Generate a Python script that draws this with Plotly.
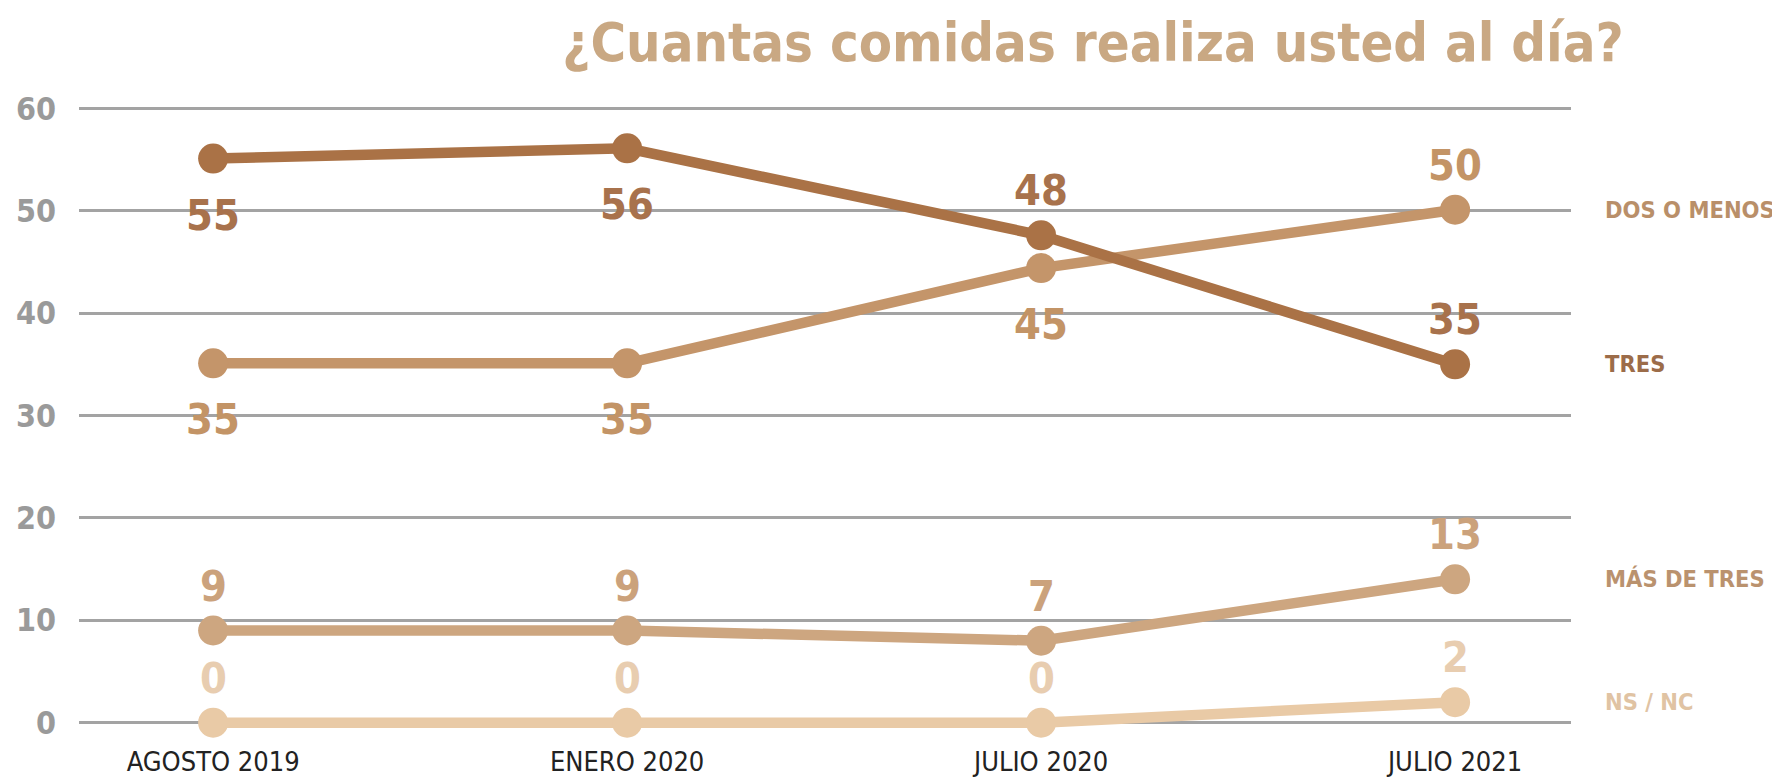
import plotly.graph_objects as go

periods = ["AGOSTO 2019", "ENERO 2020", "JULIO 2020", "JULIO 2021"]
series_names = ["DOS O MENOS", "TRES", "MÁS DE TRES", "NS / NC"]

dos_o_menos = [35.1, 35.1, 44.4, 50.1]
dos_o_menos_labels = ["35", "35", "45", "50"]
tres = [55.1, 56.1, 47.6, 35.0]
tres_labels = ["55", "56", "48", "35"]
mas_de_tres = [9.0, 9.0, 8.0, 14.0]
mas_de_tres_labels = ["9", "9", "7", "13"]
ns_nc = [0, 0, 0, 2.0]
ns_nc_labels = ["0", "0", "0", "2"]

y_ticks = [0, 10, 20, 30, 40, 50, 60]
title_text = "¿Cuantas comidas realiza usted al día?"

FONT = "DejaVu Sans Condensed, DejaVu Sans, sans-serif"

series = [
    # values, labels, line colour, data-label colour, side-label colour, label side per point
    (dos_o_menos, dos_o_menos_labels, "#c4956a", "#c39466", "#b98f69", ["below", "below", "below", "above"]),
    (tres, tres_labels, "#aa7246", "#a8724c", "#9c6c49", ["below", "below", "above", "above"]),
    (mas_de_tres, mas_de_tres_labels, "#cda680", "#cba27c", "#ba926e", ["above"] * 4),
    (ns_nc, ns_nc_labels, "#e9caa6", "#e8cdb0", "#e0c3a3", ["above"] * 4),
]

xs = list(range(len(periods)))
fig = go.Figure()
annotations = []
for name, (vals, labels, lc, tc, sc, sides) in zip(series_names, series):
    fig.add_trace(go.Scatter(
        x=xs, y=vals, mode="lines+markers", name=name,
        line=dict(color=lc, width=10.5),
        marker=dict(color=lc, size=30),
        cliponaxis=False, showlegend=False, hoverinfo="skip",
    ))
    for xi, v, lab, side in zip(xs, vals, labels, sides):
        annotations.append(dict(
            x=xi, y=v, xref="x", yref="y", text=lab, showarrow=False,
            yshift=(45 if side == "above" else -56), yanchor="middle", xanchor="center",
            font=dict(family=FONT, size=43, color=tc, weight="bold"),
        ))
    annotations.append(dict(
        x=(1595 - 71) / 1492, y=vals[-1], xref="paper", yref="y", text=name, showarrow=False,
        xanchor="left", yanchor="middle",
        font=dict(family=FONT, size=23.5, color=sc, weight="bold"),
    ))

fig.update_layout(
    width=1780, height=783,
    margin=dict(l=71, r=217, t=85, b=53),
    paper_bgcolor="white", plot_bgcolor="white",
    title=dict(text=title_text, x=1085 / 1780, xanchor="center", y=1 - 34 / 783, yanchor="middle",
               xref="container", yref="container",
               font=dict(family=FONT, size=54, color="#c9a883", weight="bold")),
    annotations=annotations,
)
fig.update_xaxes(
    range=[-0.324, 3.28], tickvals=xs, ticktext=periods,
    showgrid=False, zeroline=False, showline=False, ticks="",
    tickfont=dict(family=FONT, size=27, color="#222222"),
    ticklabelstandoff=5, automargin=False,
)
fig.update_yaxes(
    range=[-1.5, 61.5], tickvals=y_ticks,
    showgrid=True, gridcolor="#a3a3a3", gridwidth=2.5,
    zeroline=False, showline=False, ticks="",
    tickfont=dict(family=FONT, size=32, color="#9a9a9a", weight="bold"),
    ticklabelstandoff=22, automargin=False,
)

fig.write_html("out.html")
